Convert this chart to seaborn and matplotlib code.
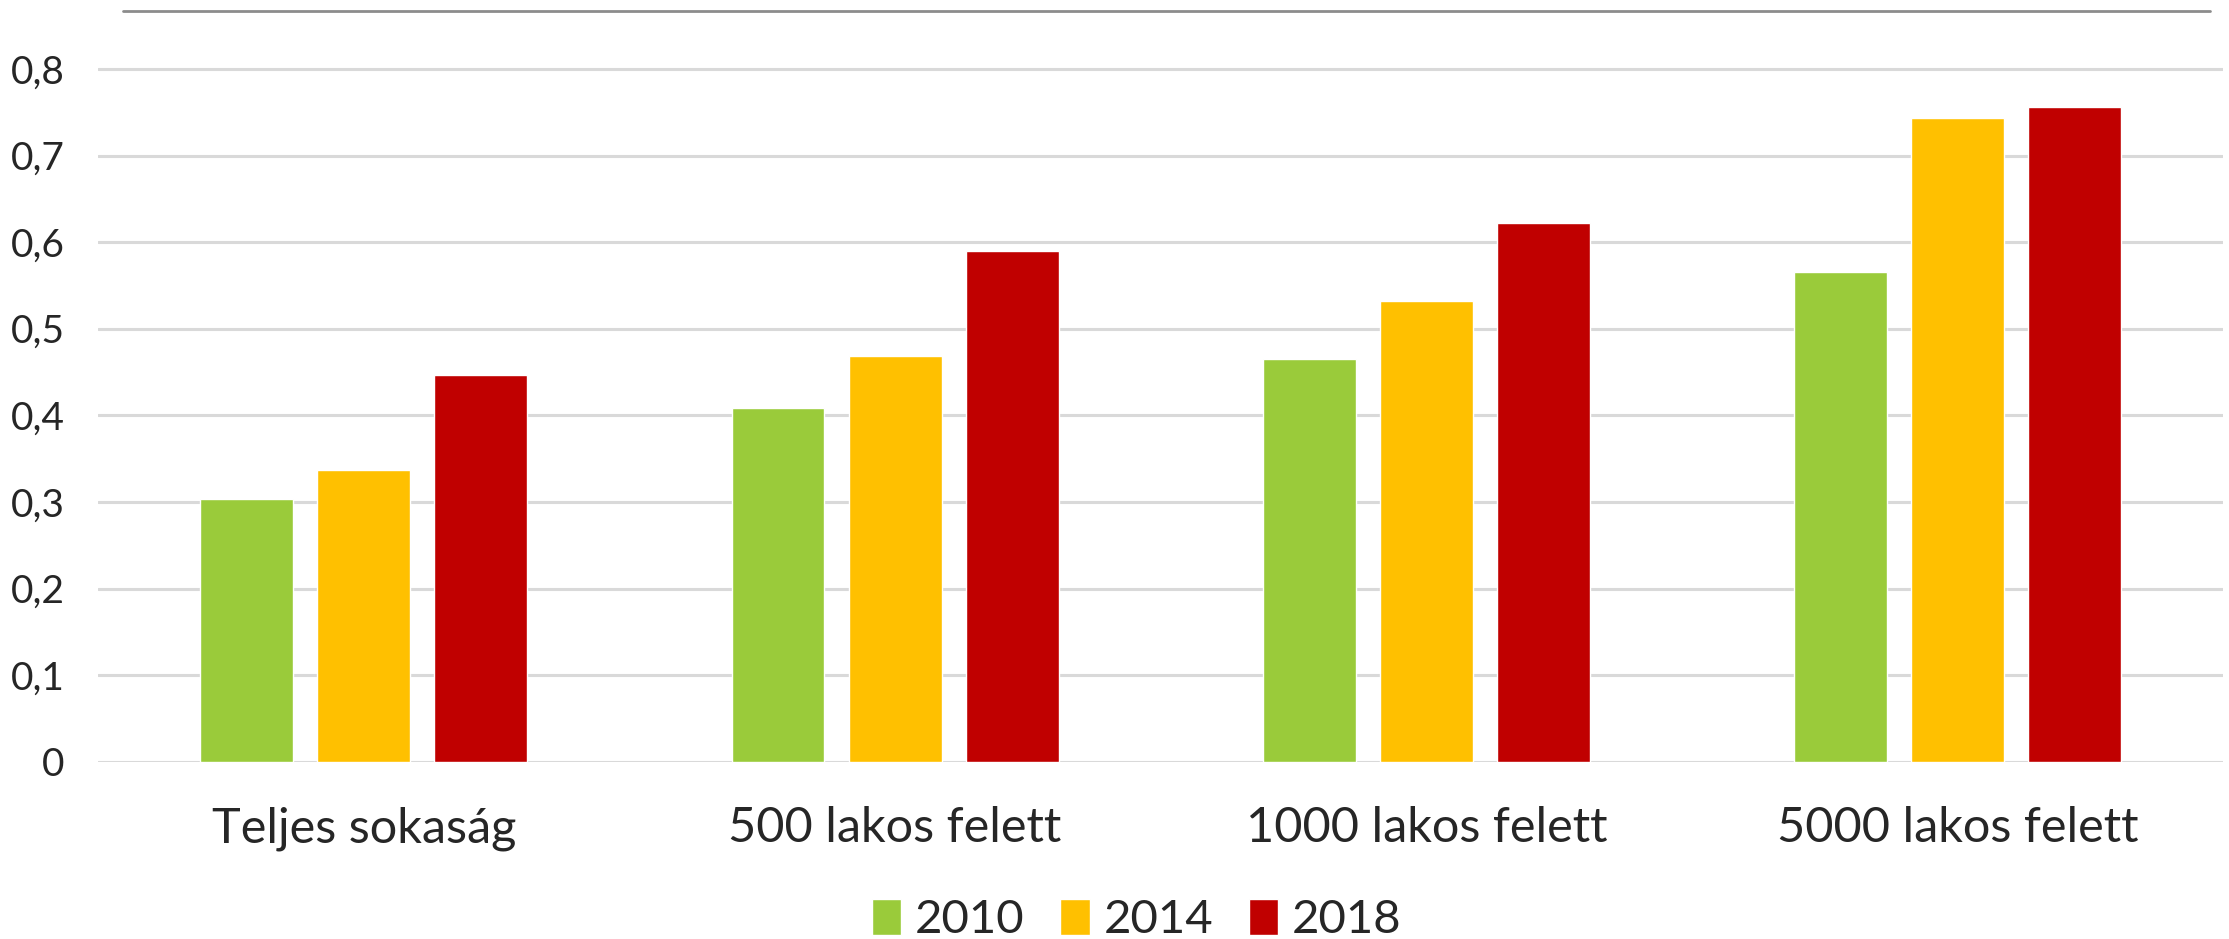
import pandas as pd
import matplotlib.pyplot as plt
import seaborn as sns
from matplotlib.lines import Line2D

# Adatok (leolvasva az ábráról)
kategoriak = ["Teljes sokaság", "500 lakos felett", "1000 lakos felett", "5000 lakos felett"]
evek = ["2010", "2014", "2018"]
ertek_2010 = [0.303, 0.409, 0.465, 0.566]
ertek_2014 = [0.337, 0.469, 0.532, 0.743]
ertek_2018 = [0.447, 0.590, 0.622, 0.756]
y_tickek = [0, 0.1, 0.2, 0.3, 0.4, 0.5, 0.6, 0.7, 0.8]
y_cimkek = ["0", "0,1", "0,2", "0,3", "0,4", "0,5", "0,6", "0,7", "0,8"]
szinek = ["#9ACB3A", "#FFC000", "#C00000"]

df = pd.DataFrame({
    "Kategoria": kategoriak * 3,
    "Ev": [evek[0]] * 4 + [evek[1]] * 4 + [evek[2]] * 4,
    "Ertek": ertek_2010 + ertek_2014 + ertek_2018,
})

sns.set_style("white")
plt.rcParams["font.family"] = ["Lato", "DejaVu Sans"]

fig = plt.figure(figsize=(22.29, 9.39), dpi=100)
ax = fig.add_axes([0.044, 0.1888, 0.9535, 0.7839])

sns.barplot(data=df, x="Kategoria", y="Ertek", hue="Ev", palette=szinek,
            width=0.661, gap=0.206, saturation=1, errorbar=None, ax=ax)

ax.set_xlim(-0.5, 3.5)
ax.set_ylim(0, 0.85)
ax.set_yticks(y_tickek)
ax.set_yticklabels(y_cimkek)
ax.yaxis.grid(True, color="#D9D9D9", linewidth=2.2)
ax.set_axisbelow(True)
for s in ax.spines.values():
    s.set_visible(False)
ax.tick_params(axis="y", length=0, pad=24, labelsize=28)
ax.tick_params(axis="x", length=0, pad=32, labelsize=35)
ax.set_xlabel("")
ax.set_ylabel("")

# felső szürke vonal
fig.add_artist(Line2D([123 / 2229, 2210 / 2229], [1 - 10.5 / 939, 1 - 10.5 / 939],
                      color="#8C8C8C", linewidth=2))

sns.move_legend(ax, "center", bbox_to_anchor=(0.51, 0.02), bbox_transform=fig.transFigure,
                ncol=3, frameon=False, title=None, fontsize=34,
                handlelength=0.62, handleheight=0.8, handletextpad=0.3, columnspacing=0.75)

plt.savefig("out.png", dpi=100)
